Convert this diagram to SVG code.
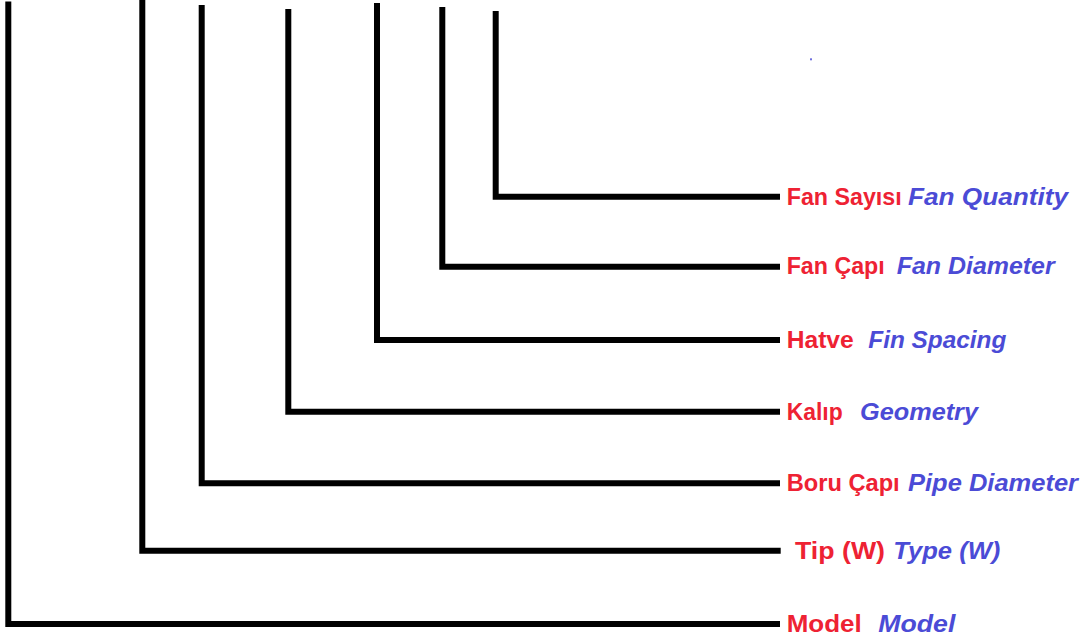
<svg xmlns="http://www.w3.org/2000/svg" width="1092" height="640" viewBox="0 0 1092 640">
<style>
.c{fill:none;stroke:#000;stroke-width:6;stroke-linejoin:miter;stroke-linecap:butt}
.r{font-family:"Liberation Sans",Arial,sans-serif;font-weight:bold;font-size:24px;fill:#EE2233}
.b{font-family:"Liberation Sans",Arial,sans-serif;font-weight:bold;font-style:italic;font-size:24px;fill:#4B4BD6}
</style>
<rect width="1092" height="640" fill="#fff"/>
<g id="connectors">
<path class="c" d="M8.3,1.5 V624 H780"/>
<path class="c" d="M142.3,0 V550.7 H780.7"/>
<path class="c" d="M201.7,5 V483.3 H780"/>
<path class="c" d="M288.3,9 V411.7 H780"/>
<path class="c" d="M377,3 V340 H780"/>
<path class="c" d="M442.3,7 V266.7 H780"/>
<path class="c" d="M495.7,11 V196.7 H780"/>
</g>
<g id="fan-quantity">
<text class="r" x="786.7" y="205" textLength="115" lengthAdjust="spacingAndGlyphs">Fan Sayısı</text>
<text class="b" x="908" y="205" textLength="160" lengthAdjust="spacingAndGlyphs">Fan Quantity</text>
</g>
<g id="fan-diameter">
<text class="r" x="786.7" y="274" textLength="98" lengthAdjust="spacingAndGlyphs">Fan Çapı</text>
<text class="b" x="896.7" y="274" textLength="158" lengthAdjust="spacingAndGlyphs">Fan Diameter</text>
</g>
<g id="fin-spacing">
<text class="r" x="786.7" y="348" textLength="67" lengthAdjust="spacingAndGlyphs">Hatve</text>
<text class="b" x="868.3" y="348" textLength="138" lengthAdjust="spacingAndGlyphs">Fin Spacing</text>
</g>
<g id="geometry">
<text class="r" x="786.7" y="419.5" textLength="56" lengthAdjust="spacingAndGlyphs">Kalıp</text>
<text class="b" x="860" y="419.5" textLength="118" lengthAdjust="spacingAndGlyphs">Geometry</text>
</g>
<g id="pipe-diameter">
<text class="r" x="786.7" y="491" textLength="113" lengthAdjust="spacingAndGlyphs">Boru Çapı</text>
<text class="b" x="908" y="491" textLength="170" lengthAdjust="spacingAndGlyphs">Pipe Diameter</text>
</g>
<g id="type">
<text class="r" x="795" y="558.5" textLength="90" lengthAdjust="spacingAndGlyphs">Tip (W)</text>
<text class="b" x="893.3" y="558.5" textLength="107" lengthAdjust="spacingAndGlyphs">Type (W)</text>
</g>
<g id="model">
<text class="r" x="786.7" y="632" textLength="75" lengthAdjust="spacingAndGlyphs">Model</text>
<text class="b" x="878.3" y="632" textLength="77" lengthAdjust="spacingAndGlyphs">Model</text>
</g>
<rect x="810" y="58.3" width="2" height="2" fill="#4B4BD6" opacity="0.8"/>
</svg>
